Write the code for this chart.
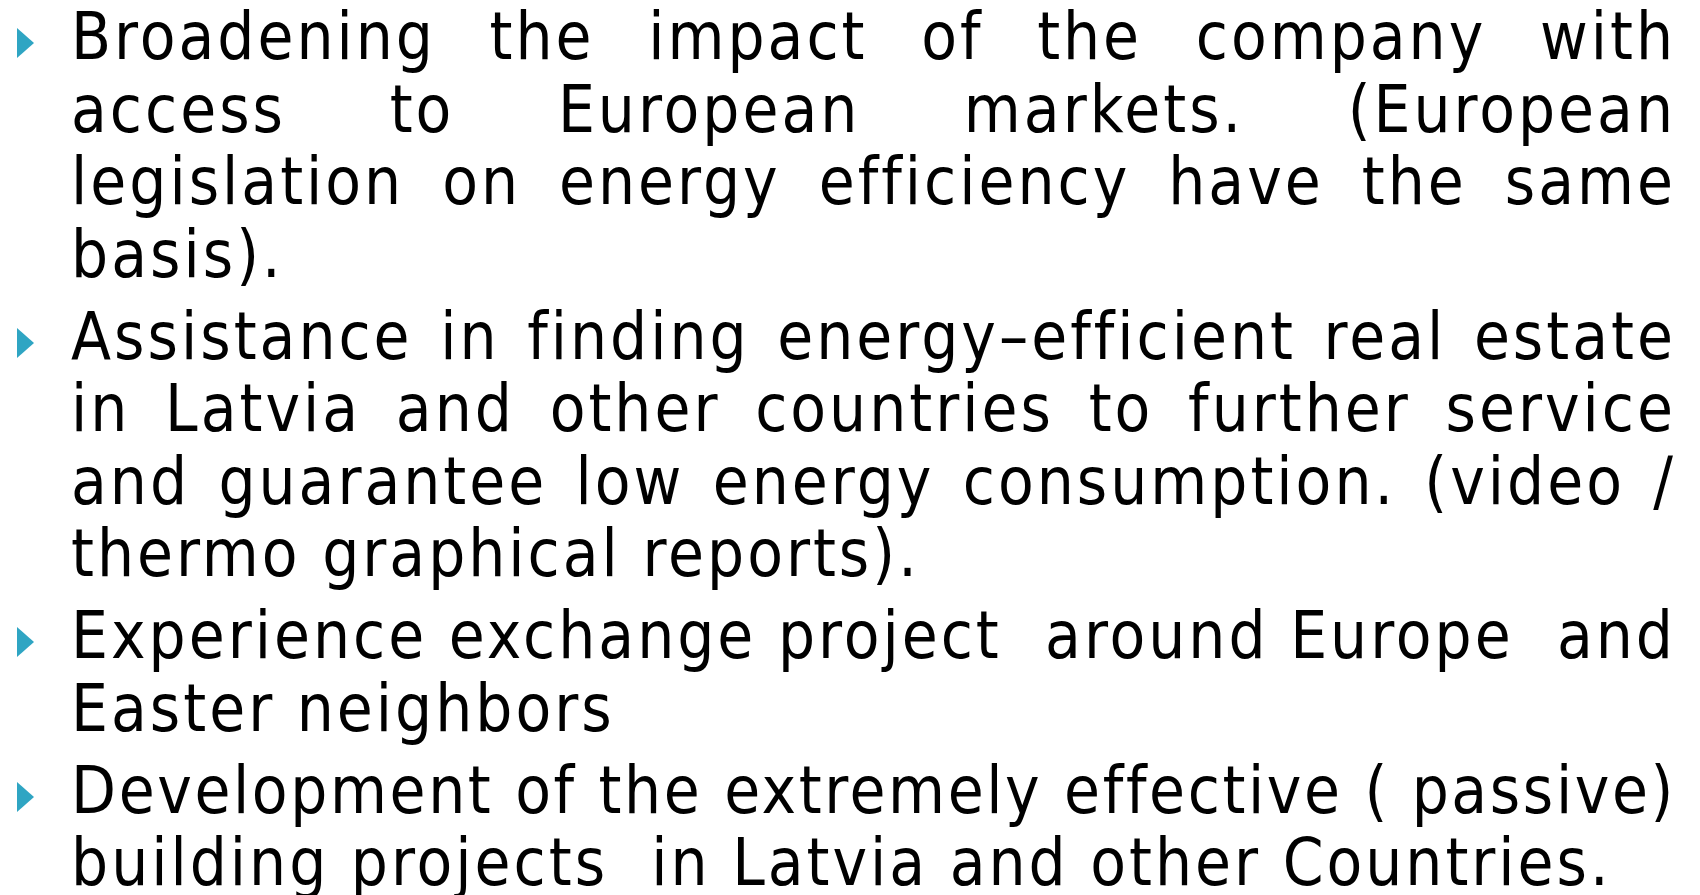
<!DOCTYPE html>
<html>
<head>
<meta charset="utf-8">
<script src="https://cdn.jsdelivr.net/npm/chart.js@4/dist/chart.umd.min.js"></script>
<style>
  html, body { margin: 0; padding: 0; background: #ffffff; }
  body { width: 1700px; height: 895px; overflow: hidden; position: relative; }
  #slide { position: absolute; left: 0; top: 1px; width: 1700px; }
  .item { position: relative; padding-left: 71px; margin-top: 9.5px; }
  .item:first-child { margin-top: 0; }
  .bullet { position: absolute; left: 17px; top: 27px; width: 0; height: 0;
            border-top: 15.5px solid transparent; border-bottom: 15.5px solid transparent;
            border-left: 17px solid #2fa5c3; }
  .line { display: block; width: 1605px; line-height: 72.5px;
          font-family: "DejaVu Sans Condensed", "DejaVu Sans", sans-serif; font-stretch: condensed;
          font-size: 65px; color: #000; letter-spacing: 3px; white-space: pre-wrap; }
  .j { text-align: justify; text-align-last: justify; }
</style>
</head>
<body>
<div id="slide"></div>
<script>
const bullet1 = ["Broadening the impact of the company with",
                 "access to European markets. (European",
                 "legislation on energy efficiency have the same",
                 "basis)."];
const bullet2 = ["Assistance in finding energy\u2013efficient real estate",
                 "in Latvia and other countries to further service",
                 "and guarantee low energy consumption. (video /",
                 "thermo graphical reports)."];
const bullet3 = ["Experience exchange project  around Europe  and",
                 "Easter neighbors"];
const bullet4 = ["Development of the extremely effective ( passive)",
                 "building projects  in Latvia and other Countries."];
const bullets = [bullet1, bullet2, bullet3, bullet4];

const slide = document.getElementById('slide');
bullets.forEach(lines => {
  const item = document.createElement('div');
  item.className = 'item';
  const b = document.createElement('div');
  b.className = 'bullet';
  item.appendChild(b);
  lines.forEach((t, i) => {
    const s = document.createElement('span');
    s.className = 'line' + (i < lines.length - 1 ? ' j' : '');
    s.textContent = t;
    item.appendChild(s);
  });
  slide.appendChild(item);
});
// keep each line on one row: tighten letter spacing of a line that would wrap
document.querySelectorAll('.line').forEach(s => {
  let ls = 3;
  while (s.offsetHeight > 80 && ls > -2) {
    ls -= 0.1;
    s.style.letterSpacing = ls + 'px';
  }
});
</script>
</body>
</html>
